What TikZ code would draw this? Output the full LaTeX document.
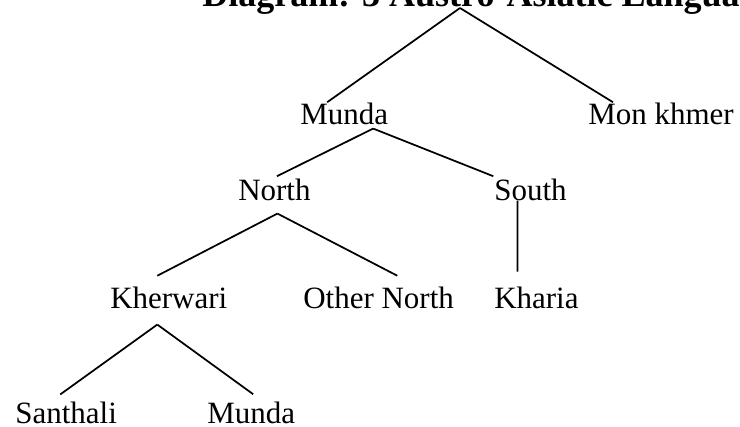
\documentclass[tikz,border=0pt]{standalone}
\usepackage{fontspec}
\setmainfont{Liberation Serif}
\usetikzlibrary{calc}

\begin{document}
\begin{tikzpicture}[x=0.75pt,y=0.75pt,yscale=-1,xscale=1,
  lang/.style={inner sep=0pt,anchor=base west,font=\fontsize{23.25}{28}\selectfont},
  branch/.style={line width=1.3pt}]
\useasboundingbox (0,0) rectangle (740,426);
\clip (0,0) rectangle (740,426);

% Title Node
\draw (202,6) node [lang,font=\bfseries\fontsize{27}{32}\selectfont] (title) {Diagram: 3 Austro-Asiatic Languages};
\coordinate (root) at (460,8);

% Text Node
\draw (300,124) node [lang] (munda) {Munda};
% Text Node
\draw (588,124) node [lang] (monkhmer) {Mon khmer};
% Text Node
\draw (238,200) node [lang] (north) {North};
% Text Node
\draw (494,200) node [lang] (south) {South};
% Text Node
\draw (110,308.5) node [lang] (kherwari) {Kherwari};
% Text Node
\draw (303,308.5) node [lang] (othernorth) {Other North};
% Text Node
\draw (494,308.5) node [lang] (kharia) {Kharia};
% Text Node
\draw (15,423) node [lang] (santhali) {Santhali};
% Text Node
\draw (207,423) node [lang] (munda2) {Munda};

%Straight Lines
\draw [branch] (root) -- ($(munda.north)+(-17,0)$);
\draw [branch] (root) -- ($(monkhmer.north west)+(25,0)$);
%Straight Lines
\draw [branch] ($(munda.south)+(29,4)$) -- ($(north.north)+(2.5,-2)$);
\draw [branch] ($(munda.south)+(29,4)$) -- ($(south.north west)+(-0.7,-2)$);
%Straight Lines
\draw [branch] ($(north.south)+(3,13)$) -- ($(kherwari.north)+(-11.5,-11)$);
\draw [branch] ($(north.south)+(3,13)$) -- ($(othernorth.north)+(18.7,-11)$);
%Straight Lines
\draw [branch] ($(south.south)+(-13,0)$) -- ($(kharia.north)+(-19,-15)$);
%Straight Lines
\draw [branch] ($(kherwari.south)+(-11.5,15.5)$) -- ($(santhali.north)+(-5.8,-6.8)$);
\draw [branch] ($(kherwari.south)+(-11.5,15.5)$) -- ($(munda2.north)+(2,-7)$);

\end{tikzpicture}
\end{document}
